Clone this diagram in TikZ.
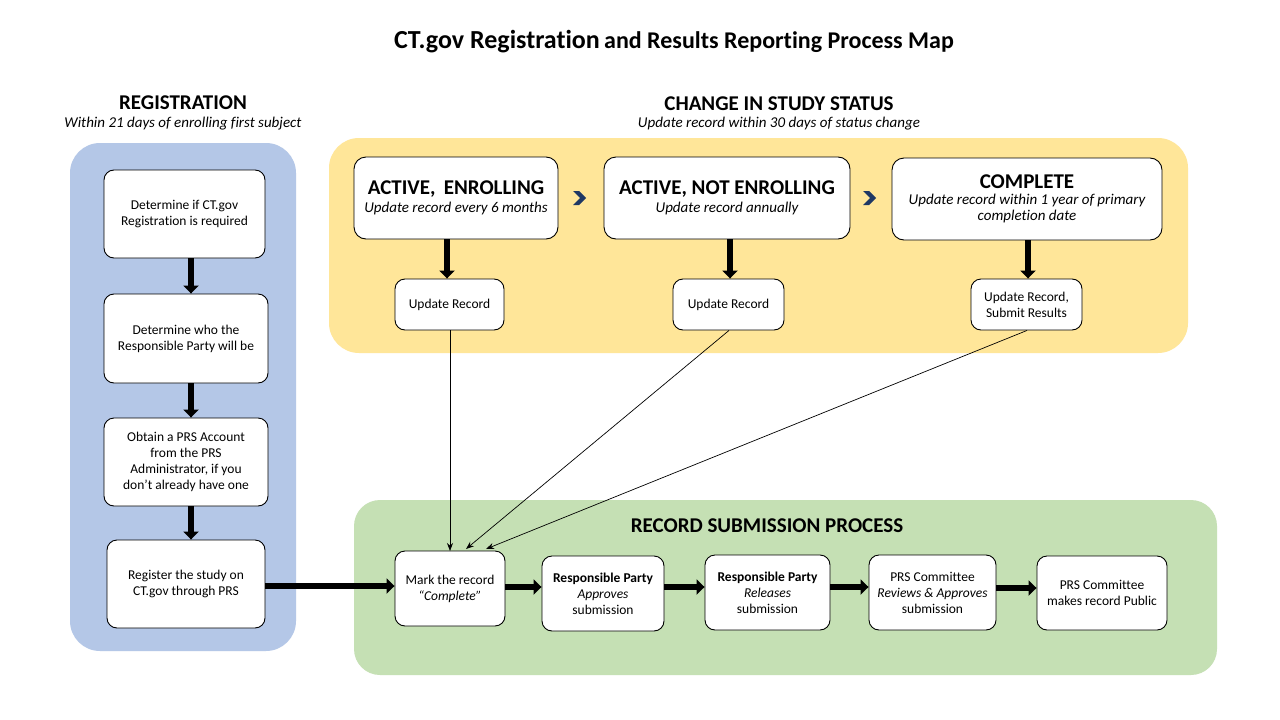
\documentclass[tikz,border=0pt]{standalone}
\usepackage{fontspec}
\setmainfont{Carlito}[Ligatures=NoCommon]
\usetikzlibrary{arrows.meta}
\definecolor{regblue}{HTML}{B4C7E7}
\definecolor{statyel}{HTML}{FFE699}
\definecolor{subgreen}{HTML}{C5E0B4}
\definecolor{chevnavy}{HTML}{1F3864}
\tikzset{
  wbox/.style={draw=black, fill=white, rounded corners=10pt, line width=0.9pt, align=center, inner sep=2pt, font=\fontsize{13.5}{16}\selectfont},
  bigbox/.style={wbox, rounded corners=12pt},
  thick arrow/.style={line width=5.5pt, -{Triangle[width=15pt,length=8pt]}},
  thin arrow/.style={line width=0.7pt, -{Stealth[width=6pt,length=8pt]}},
  heading/.style={font=\fontsize{21}{24}\selectfont\bfseries, inner sep=0pt},
  subhead/.style={font=\fontsize{15}{18}\selectfont\itshape, inner sep=0pt},
}
\newcommand{\bigtitle}[1]{{\fontsize{21}{22}\selectfont\bfseries #1}}
\newcommand{\bigsub}[1]{{\fontsize{15}{18}\selectfont\itshape #1}}
\begin{document}
\begin{tikzpicture}[x=1pt,y=-1pt]
\useasboundingbox (0,0) rectangle (1280,720);
\fill[white] (0,0) rectangle (1280,720);
% title
\node[inner sep=0pt] (title) at (674,42) {\bfseries\fontsize{26}{30}\selectfont CT.gov Registration\,\fontsize{24}{30}\selectfont and Results Reporting Process Map};
% regions
\fill[regblue, rounded corners=30pt] (70,143) rectangle (296,651);
\fill[statyel, rounded corners=30pt] (329,138) rectangle (1188,353);
\fill[subgreen, rounded corners=26pt] (354,500) rectangle (1217,675);
% headings
\node[heading] (reghead) at (183,103) {REGISTRATION};
\node[subhead] (regsub) at (183,124) {Within 21 days of enrolling first subject};
\node[heading] (stathead) at (779,104) {CHANGE IN STUDY STATUS};
\node[subhead] (statsub) at (779,124) {Update record within 30 days of status change};
\node[heading] (subhd) at (767,526) {RECORD SUBMISSION PROCESS};
% registration boxes
\node[wbox, minimum width=161pt, minimum height=88pt] (r1) at (184.5,214) {Determine if CT.gov\\Registration is required};
\node[wbox, minimum width=164pt, minimum height=89pt] (r2) at (186,338.5) {Determine who the\\Responsible Party will be};
\node[wbox, minimum width=164pt, minimum height=88pt] (r3) at (186,462) {Obtain a PRS Account\\from the PRS\\Administrator, if you\\don’t already have one};
\node[wbox, minimum width=158pt, minimum height=88pt] (r4) at (186,584) {Register the study on\\CT.gov through PRS};
\draw[thick arrow] (r1.south -| 191,0) -- (r2.north -| 191,0);
\draw[thick arrow] (r2.south -| 191,0) -- (r3.north -| 191,0);
\draw[thick arrow] (r3.south -| 191,0) -- (r4.north -| 191,0);
% status boxes
\node[bigbox, minimum width=204pt, minimum height=82pt] (y1) at (456,198) {\bigtitle{ACTIVE,\, ENROLLING}\\[2pt]\bigsub{Update record every 6 months}};
\node[bigbox, minimum width=246pt, minimum height=82pt] (y2) at (727,198) {\bigtitle{ACTIVE, NOT ENROLLING}\\[2pt]\bigsub{Update record annually}};
\node[bigbox, minimum width=270pt, minimum height=82pt] (y3) at (1027,199) {\bigtitle{COMPLETE}\\\bigsub{Update record within 1 year of primary}\\\bigsub{completion date}};
% chevrons
\fill[chevnavy] (573,191) -- (579,191) -- (586,198) -- (579,205) -- (573,205) -- (580,198) -- cycle;
\fill[chevnavy] (863,191) -- (869,191) -- (876,198) -- (869,205) -- (863,205) -- (870,198) -- cycle;
% update boxes
\node[wbox, minimum width=109pt, minimum height=51pt] (u1) at (449.5,304.5) {Update Record};
\node[wbox, minimum width=111pt, minimum height=51pt] (u2) at (728.5,304.5) {Update Record};
\node[wbox, minimum width=111pt, minimum height=51pt] (u3) at (1026.5,304.5) {Update Record,\\Submit Results};
\draw[thick arrow] (y1.south -| 447,0) -- (u1.north -| 447,0);
\draw[thick arrow] (y2.south -| 730,0) -- (u2.north -| 730,0);
\draw[thick arrow] (y3.south -| 1028,0) -- (u3.north -| 1028,0);
% submission boxes
\node[wbox, minimum width=110pt, minimum height=75pt] (g1) at (450,588.5) {Mark the record\\\textit{“Complete”}};
\node[wbox, minimum width=122pt, minimum height=75pt] (g2) at (603,593.5) {\textbf{Responsible Party}\\\textit{Approves}\\submission};
\node[wbox, minimum width=125pt, minimum height=75pt] (g3) at (767.5,592.5) {\textbf{Responsible Party}\\\textit{Releases}\\submission};
\node[wbox, minimum width=127pt, minimum height=75pt] (g4) at (932.5,592.5) {PRS Committee\\\textit{Reviews \& Approves}\\submission};
\node[wbox, minimum width=130pt, minimum height=74pt] (g5) at (1102,593) {PRS Committee\\makes record Public};
\draw[thick arrow] (r4.east |- 0,586) -- (g1.west |- 0,586);
\draw[thick arrow] (g1.east |- 0,587) -- (g2.west |- 0,587);
\draw[thick arrow] (g2.east |- 0,587) -- (g3.west |- 0,587);
\draw[thick arrow] (g3.east |- 0,587) -- (g4.west |- 0,587);
\draw[thick arrow] (g4.east |- 0,588) -- (g5.west |- 0,588);
% thin arrows
\coordinate (g1a) at (450,551);
\coordinate (g1b) at (466,549);
\coordinate (g1c) at (486,549);
\draw[thin arrow] (u1.south -| 450,0) -- (g1a);
\draw[thin arrow] (u2.south -| 729,0) -- (g1b);
\draw[thin arrow] (u3.south -| 1027,0) -- (g1c);
\end{tikzpicture}
\end{document}
